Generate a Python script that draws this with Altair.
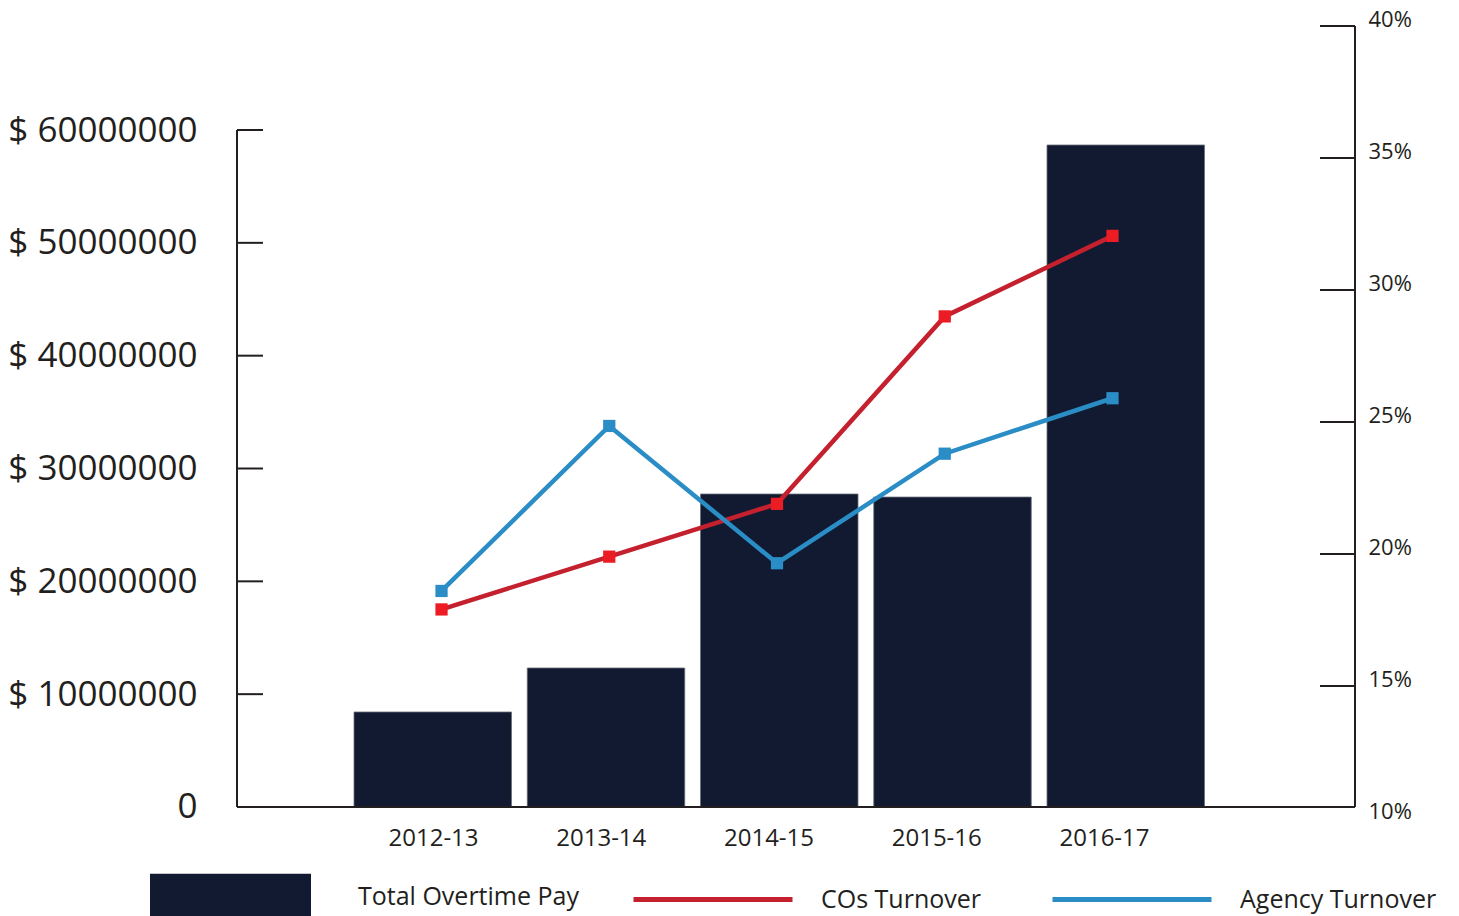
import altair as alt
import pandas as pd

# ---- data ----
years = ["2012-13", "2013-14", "2014-15", "2015-16", "2016-17"]
overtime_pay = [8420000, 12320000, 27740000, 27470000, 58670000]
cos_turnover = [17.9, 19.9, 21.9, 29.0, 32.05]
agency_turnover = [18.6, 24.85, 19.65, 23.8, 25.9]
pay_ticks = [0, 10000000, 20000000, 30000000, 40000000, 50000000, 60000000]
pct_ticks = [10, 15, 20, 25, 30, 35, 40]
bar_label = "Total Overtime Pay"
line_labels = ["COs Turnover", "Agency Turnover"]

# ---- styling ----
W, H = 1118, 792
FONT = "Open Sans"
INK = "#231f20"
NAVY = "#111a31"
RED_LINE = "#c4202e"
RED_MARK = "#ec1c24"
BLUE = "#2a8dc6"

bars_df = pd.DataFrame({"year": years, "pay": overtime_pay, "series": [bar_label] * len(years)})
lines_df = pd.DataFrame({
    "year": years * 2,
    "pct": cos_turnover + agency_turnover,
    "series": [line_labels[0]] * len(years) + [line_labels[1]] * len(years),
})
left_ticks_df = pd.DataFrame({"v": pay_ticks[1:]})
right_ticks_df = pd.DataFrame({"v": pct_ticks[1:]})

# bars: band scale
bar_x = alt.X("year:N", sort=years, axis=None,
              scale=alt.Scale(type="band", domain=years, paddingInner=0.0909,
                              paddingOuter=0.772, align=0.4374))
# lines + category labels: a second band scale (marks sit at band centres)
x_axis = alt.Axis(title=None, domain=False, ticks=False, grid=False, labelAngle=0,
                  labelFont=FONT, labelFontSize=24, labelColor=INK, labelPadding=8, labelOffset=-8)
line_x = alt.X("year:N", sort=years, axis=x_axis,
               scale=alt.Scale(type="band", domain=years, paddingInner=0,
                               paddingOuter=0.8325, align=0.432))

left_scale = alt.Scale(domain=[-975000, 69218000], nice=False, zero=False)
right_scale = alt.Scale(domain=[10, 40], nice=False, zero=False)

left_axis = alt.Axis(values=pay_ticks, orient="left", title=None, domain=False, ticks=False, grid=False,
                     labelExpr="datum.value == 0 ? '0' : '$ ' + datum.value", labelLimit=400,
                     labelFont=FONT, labelFontSize=35, labelColor=INK, labelPadding=40)
right_axis = alt.Axis(values=pct_ticks, orient="right", title=None, domain=False, ticks=False, grid=False,
                      labelExpr="datum.value + '%'", labelBaseline="alphabetic",
                      labelFont=FONT, labelFontSize=22, labelColor=INK, labelPadding=13)

bars = alt.Chart(bars_df).mark_bar(stroke="#6b6f78", strokeWidth=0.8).encode(
    x=bar_x,
    y=alt.Y("pay:Q", scale=left_scale, axis=left_axis),
    y2=alt.datum(0),
    fill=alt.Fill("series:N", scale=alt.Scale(domain=[bar_label], range=[NAVY]),
                  legend=alt.Legend(orient="none", legendX=-87, legendY=790.5, title=None,
                                    symbolType="M-1,-0.29H1V0.29H-1Z", symbolSize=25921,
                                    symbolStrokeWidth=0, symbolOpacity=1, labelOffset=47,
                                    labelFont=FONT, labelFontSize=25, labelColor=INK,
                                    labelLimit=400, padding=0)),
)

left_tick_rules = alt.Chart(left_ticks_df).mark_rule(color=INK, strokeWidth=2).encode(
    y=alt.Y("v:Q", scale=left_scale, axis=left_axis), x=alt.value(0), x2=alt.value(26))
left_axis_line = alt.Chart(bars_df).mark_rule(color=INK, strokeWidth=2).encode(
    y=alt.datum(pay_ticks[-1]), y2=alt.datum(0), x=alt.value(0))
base_line = alt.Chart(bars_df).mark_rule(color=INK, strokeWidth=2).encode(
    y=alt.datum(0), x=alt.value(0), x2=alt.value(W))
right_axis_line = alt.Chart(bars_df).mark_rule(color=INK, strokeWidth=2).encode(
    y=alt.datum(0), y2=alt.value(0), x=alt.value(W))

left_group = alt.layer(bars, left_tick_rules, left_axis_line, base_line, right_axis_line)

lines = alt.Chart(lines_df).mark_line(strokeWidth=4.5).encode(
    x=line_x,
    y=alt.Y("pct:Q", scale=right_scale, axis=right_axis),
    stroke=alt.Stroke("series:N", scale=alt.Scale(domain=line_labels, range=[RED_LINE, BLUE]),
                      legend=alt.Legend(orient="none", legendX=394, legendY=791.5, title=None,
                                        direction="horizontal", symbolType="stroke",
                                        symbolSize=25281, symbolStrokeWidth=5, labelOffset=26,
                                        columnPadding=60, labelFont=FONT, labelFontSize=25,
                                        labelColor=INK, labelLimit=400, padding=0)),
)
red_pts = alt.Chart(lines_df).transform_filter(alt.datum.series == line_labels[0]).mark_square(
    color=RED_MARK, size=150, opacity=1).encode(
    x=line_x, y=alt.Y("pct:Q", scale=right_scale, axis=right_axis))
blue_pts = alt.Chart(lines_df).transform_filter(alt.datum.series == line_labels[1]).mark_square(
    color=BLUE, size=150, opacity=1).encode(
    x=line_x, y=alt.Y("pct:Q", scale=right_scale, axis=right_axis))
right_tick_rules = alt.Chart(right_ticks_df).mark_rule(color=INK, strokeWidth=2).encode(
    y=alt.Y("v:Q", scale=right_scale, axis=right_axis), x=alt.value(W - 35), x2=alt.value(W))

right_group = alt.layer(lines, blue_pts, red_pts, right_tick_rules)

chart = alt.layer(left_group, right_group).resolve_scale(
    y="independent", x="independent"
).properties(
    width=W, height=H,
    background="white",
    autosize=alt.AutoSizeParams(type="none"),
    padding={"left": 229, "top": 18, "right": 96, "bottom": 98},
).configure_view(stroke=None, strokeWidth=0)

chart.save("out.html", embed_options={"renderer": "svg", "actions": False})
